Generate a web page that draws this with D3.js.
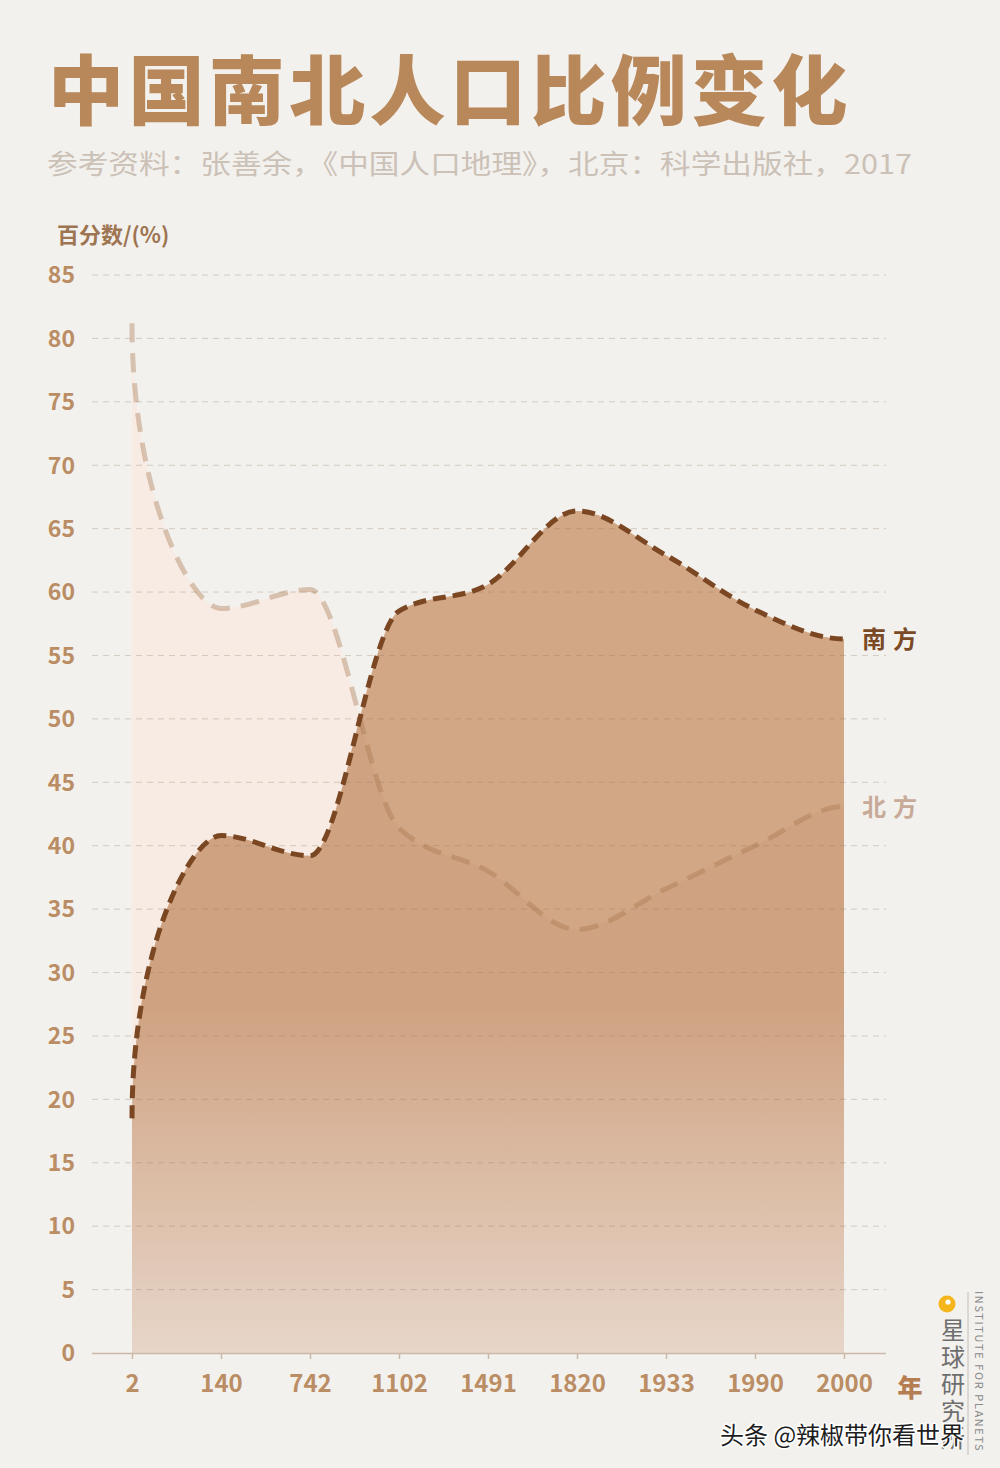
<!DOCTYPE html>
<html><head><meta charset="utf-8">
<script src="https://cdn.jsdelivr.net/npm/d3@7"></script>
<style>
html,body{margin:0;padding:0;background:#f3f1ed;}
svg{display:block;}
text{font-family:"Noto Sans CJK SC","Noto Sans",sans-serif;}
</style></head>
<body>
<script>
// ---- data ----
const years = ["2","140","742","1102","1491","1820","1933","1990","2000"];
const south = [18.5, 40.8, 39.2, 58.5, 60.6, 66.4, 62.9, 58.6, 56.3];
const north = [81.2, 58.7, 60.2, 41.4, 38.0, 33.4, 36.6, 40.0, 43.1];
const yTicks = [0,5,10,15,20,25,30,35,40,45,50,55,60,65,70,75,80,85];
const titleText = "中国南北人口比例变化";
const subtitleText = "参考资料：张善余，《中国人口地理》，北京：科学出版社，2017";
const yLabelText = "百分数/(%)";
const xUnitText = "年";
const southName = "南方", northName = "北方";
const logoText = "星球研究所";
const logoSub = "INSTITUTE FOR PLANETS";
const watermark = "头条 @辣椒带你看世界";

const W = 1000, H = 1468;
const svg = d3.select("body").append("svg").attr("width", W).attr("height", H);
svg.append("rect").attr("width", W).attr("height", H).attr("fill", "#f3f1ed");

const x = d3.scalePoint().domain(years).range([132, 844]);
const y = d3.scaleLinear().domain([0, 85]).range([1353, 275]);
const gridX0 = 92, gridX1 = 886;

// custom curve: monotone tangents inside, near-vertical start, flat end
function SmoothCurve(context) { this._context = context; }
SmoothCurve.prototype = {
  areaStart() { this._line = 0; },
  areaEnd() { this._line = NaN; },
  lineStart() { this._pts = []; },
  point(px, py) { this._pts.push([+px, +py]); },
  lineEnd() {
    const p = this._pts, n = p.length, c = this._context;
    if (!n) return;
    if (this._line) c.lineTo(p[0][0], p[0][1]); else c.moveTo(p[0][0], p[0][1]);
    if (n > 1) {
      const s = [];
      for (let i = 0; i < n - 1; i++) s.push((p[i+1][1] - p[i][1]) / ((p[i+1][0] - p[i][0]) || 1e-9));
      const m = new Array(n).fill(0);
      for (let i = 1; i < n - 1; i++) {
        const h0 = p[i][0] - p[i-1][0], h1 = p[i+1][0] - p[i][0];
        const q = (s[i-1] * h1 + s[i] * h0) / (h0 + h1);
        m[i] = (Math.sign(s[i-1]) + Math.sign(s[i])) * Math.min(Math.abs(s[i-1]), Math.abs(s[i]), 0.5 * Math.abs(q)) || 0;
      }
      for (let i = 0; i < n - 1; i++) {
        const [x0, y0] = p[i], [x1, y1] = p[i+1], h = x1 - x0;
        let c1x, c1y;
        if (i === 0 && n > 2) { c1x = x0; c1y = y0 + 0.6 * (y1 - y0); }
        else { c1x = x0 + h / 3; c1y = y0 + m[i] * h / 3; }
        const c2x = x1 - h / 3, c2y = y1 - m[i+1] * h / 3;
        c.bezierCurveTo(c1x, c1y, c2x, c2y, x1, y1);
      }
    }
    if (this._line || (this._line !== 0 && n === 1)) c.closePath();
    this._line = 1 - this._line;
  }
};
const smooth = ctx => new SmoothCurve(ctx);

const southPts = years.map((yr, i) => [x(yr), y(south[i])]);
const northPts = years.map((yr, i) => [x(yr), y(north[i])]);
const line = d3.line().x(d => d[0]).y(d => d[1]).curve(smooth);
const areaPath = pts => line(pts) + `L${pts[pts.length-1][0]},${y(0)}L${pts[0][0]},${y(0)}Z`;

const defs = svg.append("defs");
const grad = defs.append("linearGradient").attr("id", "sg")
  .attr("gradientUnits", "userSpaceOnUse").attr("x1", 0).attr("x2", 0)
  .attr("y1", y(85)).attr("y2", y(0));
grad.append("stop").attr("offset", "0.68").attr("stop-color", "#d2a786");
grad.append("stop").attr("offset", "1").attr("stop-color", "#ebdcd0");

// north area (light), south area, overlay darkening overlap
svg.append("path").attr("d", areaPath(northPts)).attr("fill", "#fbf2eb");
svg.append("path").attr("d", areaPath(southPts)).attr("fill", "url(#sg)");
svg.append("path").attr("d", areaPath(northPts)).attr("fill", "rgba(140,70,30,0.035)");

// gridlines
svg.append("g").selectAll("line").data(yTicks.filter(d => d > 0)).join("line")
  .attr("x1", gridX0).attr("x2", gridX1)
  .attr("y1", d => y(d)).attr("y2", d => y(d))
  .attr("stroke", "rgba(140,115,95,0.3)").attr("stroke-width", 1)
  .attr("stroke-dasharray", "6,5");

// axis
const axisG = svg.append("g").attr("transform", `translate(0,${y(0)})`)
  .call(d3.axisBottom(x).tickSize(6).tickSizeOuter(0).tickPadding(16));
axisG.select(".domain").remove();
axisG.append("line").attr("x1", gridX0).attr("x2", gridX1).attr("y1", 0.5).attr("y2", 0.5)
  .attr("stroke", "#cbb9aa").attr("stroke-width", 1.5);
axisG.selectAll(".tick line").attr("stroke", "#cbb9aa").attr("stroke-width", 1.5);
axisG.selectAll(".tick text")
  .attr("font-family", "'Noto Sans CJK SC','Noto Sans',sans-serif")
  .attr("font-size", 24).attr("font-weight", 700).attr("fill", "#ba8d64");

// y tick labels
svg.append("g").selectAll("text").data(yTicks).join("text")
  .attr("x", 75).attr("y", d => y(d)).attr("dy", "0.36em")
  .attr("text-anchor", "end").attr("font-size", 23).attr("font-weight", 700)
  .attr("fill", "#ba8d64").text(d => d);

// lines
svg.append("path").attr("d", line(northPts)).attr("fill", "none")
  .attr("stroke", "rgba(165,115,72,0.37)").attr("stroke-width", 5)
  .attr("stroke-dasharray", "19,11");
svg.append("path").attr("d", line(southPts)).attr("fill", "none")
  .attr("stroke", "#7a4722").attr("stroke-width", 5)
  .attr("stroke-dasharray", "13,7");

// series labels
svg.append("text").attr("x", 862).attr("y", y(south[south.length-1])).attr("dy", "0.36em")
  .attr("font-size", 24).attr("font-weight", 700).attr("letter-spacing", 7)
  .attr("fill", "#7a4a26").text(southName);
svg.append("text").attr("x", 862).attr("y", y(north[north.length-1]) + 1).attr("dy", "0.36em")
  .attr("font-size", 24).attr("font-weight", 700).attr("letter-spacing", 7)
  .attr("fill", "#c7aa98").text(northName);

// x unit
svg.append("text").attr("x", 910).attr("y", 1397).attr("text-anchor", "middle")
  .attr("font-size", 25).attr("font-weight", 900).attr("fill", "#b47e52").text(xUnitText);

// title & subtitle
svg.append("text").attr("x", 48).attr("y", 119).attr("font-size", 76)
  .attr("letter-spacing", 4.4)
  .attr("font-weight", 900).attr("fill", "#b8885b").text(titleText);
svg.append("text").attr("x", 47).attr("y", 174).attr("font-size", 27)
  .attr("font-weight", 400).attr("fill", "#cbc1b7")
  .attr("textLength", 865).attr("lengthAdjust", "spacingAndGlyphs").text(subtitleText);
svg.append("text").attr("x", 57).attr("y", 243).attr("font-size", 22)
  .attr("font-weight", 700).attr("fill", "#9e7552").text(yLabelText);

// logo
const lg = svg.append("g");
lg.append("circle").attr("cx", 947).attr("cy", 1304).attr("r", 8.5).attr("fill", "#f4b61c");
lg.append("circle").attr("cx", 948).attr("cy", 1302).attr("r", 2.6).attr("fill", "#fff");
lg.append("line").attr("x1", 968).attr("x2", 968).attr("y1", 1292).attr("y2", 1455)
  .attr("stroke", "#c4c0bb").attr("stroke-width", 1);
lg.append("text").attr("x", 953).attr("y", 1318)
  .style("writing-mode", "vertical-rl").attr("font-size", 24).attr("letter-spacing", 3)
  .attr("fill", "#6e6e6e").text(logoText);
lg.append("text").attr("transform", "translate(975,1291) rotate(90)")
  .attr("font-size", 11).attr("letter-spacing", 1.6).attr("fill", "#8a8a8a")
  .attr("font-family", "'Open Sans',sans-serif").text(logoSub);

// watermark
svg.append("text").attr("x", 720).attr("y", 1444).attr("font-size", 24)
  .attr("fill", "#1e1e1e").attr("stroke", "#ffffff").attr("stroke-width", 3)
  .attr("paint-order", "stroke").attr("stroke-linejoin", "round")
  .text(watermark);
</script>
</body></html>
